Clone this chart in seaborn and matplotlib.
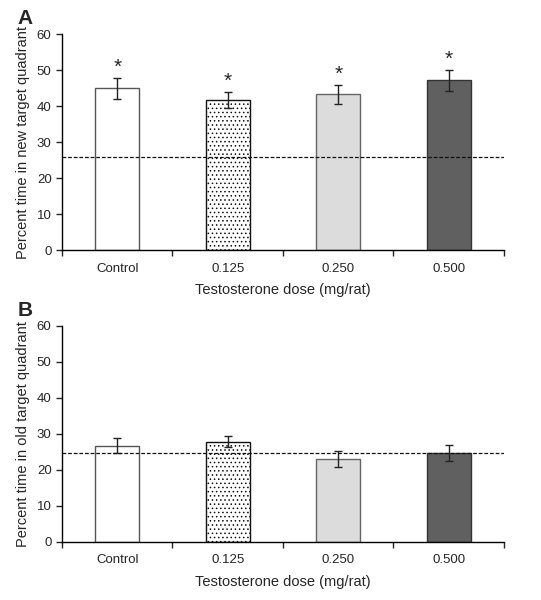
import matplotlib
matplotlib.use("Agg")
import matplotlib.pyplot as plt
import seaborn as sns
import pandas as pd

# data
doses = ["Control", "0.125", "0.250", "0.500"]
new_quadrant = [44.9, 41.6, 43.3, 47.2]
new_quadrant_err = [3.0, 2.2, 2.6, 2.9]
old_quadrant = [26.8, 27.9, 23.0, 24.7]
old_quadrant_err = [2.2, 1.6, 2.2, 2.2]
chance_new = 25.9
chance_old = 24.7
significant_new = [True, True, True, True]
significant_old = [False, False, False, False]

bar_colors = ["#ffffff", "#ffffff", "#dcdcdc", "#606060"]
edge_colors = ["#555555", "#111111", "#666666", "#333333"]
hatches = [None, "....", None, None]

sns.set_style("ticks")
plt.rcParams["font.family"] = ["Liberation Sans", "DejaVu Sans"]
plt.rcParams["hatch.linewidth"] = 0.6
plt.rcParams["hatch.color"] = "#333333"


def draw_panel(ax, values, errs, chance, stars, ylabel, letter):
    df = pd.DataFrame({"dose": doses, "value": values})
    sns.barplot(data=df, x="dose", y="value", hue="dose", palette=bar_colors,
                legend=False, width=0.4, errorbar=None, ax=ax, linewidth=1.0)
    for patch, ec, h in zip(ax.patches, edge_colors, hatches):
        patch.set_edgecolor(ec)
        if h:
            patch.set_hatch(h)
    xs = range(len(doses))
    ax.errorbar(xs, values, yerr=errs, fmt="none", ecolor="#222222",
                elinewidth=1.0, capsize=3, capthick=1.0, zorder=5)
    for x, v, e, s in zip(xs, values, errs, stars):
        if s:
            ax.text(x, v + e + 0.3, "*", ha="center", va="bottom", fontsize=15)
    ax.axhline(chance, color="#111111", linestyle=(0, (3, 1.5)), linewidth=0.9, zorder=6)

    ax.set_ylim(0, 60)
    ax.set_yticks(range(0, 61, 10))
    ax.set_xlim(-0.5, len(doses) - 0.5)
    ax.set_xticks([i - 0.5 for i in range(len(doses) + 1)])
    ax.set_xticklabels([])
    ax.set_xticks(list(xs), minor=True)
    ax.set_xticklabels(doses, minor=True)
    ax.tick_params(axis="x", which="minor", length=0, labelsize=9.5, pad=9)
    ax.tick_params(axis="x", which="major", length=4, width=1, direction="out")
    ax.tick_params(axis="y", length=4, width=1, labelsize=9.5, direction="out")
    ax.set_xlabel("Testosterone dose (mg/rat)", fontsize=10.5, labelpad=6)
    ax.set_ylabel(ylabel, fontsize=10.5, labelpad=5)
    for sp in ["left", "bottom"]:
        ax.spines[sp].set_linewidth(1.0)
        ax.spines[sp].set_color("black")
    sns.despine(ax=ax)
    ax.text(-0.1, 1.03, letter, transform=ax.transAxes, fontsize=15,
            fontweight="bold", ha="left", va="bottom")


fig = plt.figure(figsize=(5.41, 6.0), dpi=100)
ax_a = fig.add_axes([0.1146, 0.5833, 0.817, 0.36])
ax_b = fig.add_axes([0.1146, 0.0967, 0.817, 0.36])

draw_panel(ax_a, new_quadrant, new_quadrant_err, chance_new, significant_new,
           "Percent time in new target quadrant", "A")
draw_panel(ax_b, old_quadrant, old_quadrant_err, chance_old, significant_old,
           "Percent time in old target quadrant", "B")

fig.savefig("out.png", dpi=100)
